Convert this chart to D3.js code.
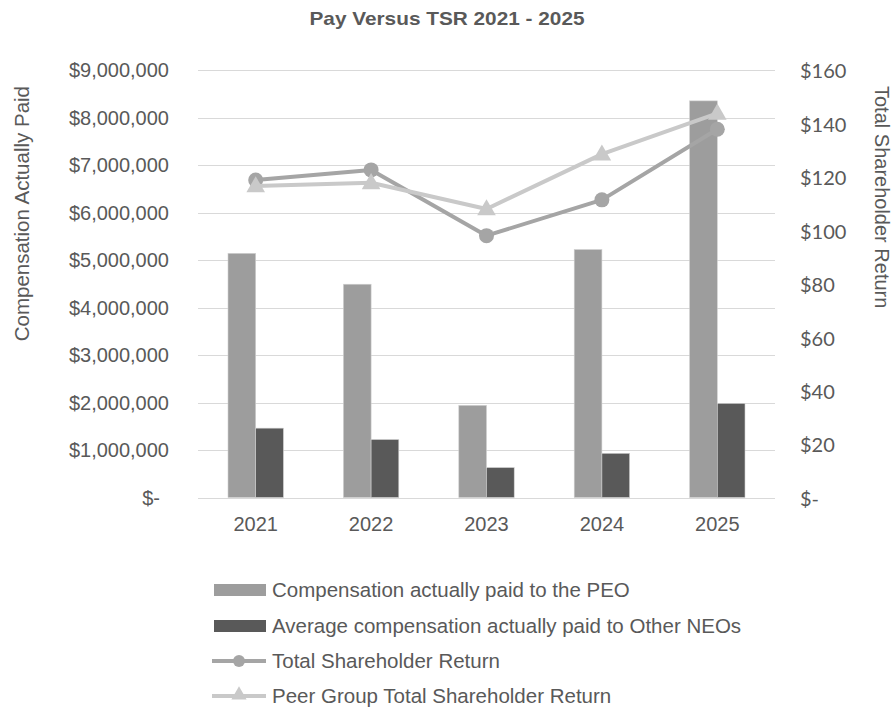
<!DOCTYPE html>
<html>
<head>
<meta charset="utf-8">
<script src="https://cdn.jsdelivr.net/npm/d3@7"></script>
<style>
  html, body { margin: 0; padding: 0; background: #ffffff; }
  svg { display: block; }
</style>
</head>
<body>
<svg id="chart" width="893" height="709"></svg>
<script>
const years = ["2021", "2022", "2023", "2024", "2025"];
const peoCap = [5140000, 4490000, 1940000, 5220000, 8350000];
const neoCap = [1460000, 1220000, 630000, 930000, 1980000];
const tsr = [118.8, 122.6, 98.0, 111.4, 137.8];
const peerTsr = [116.6, 117.8, 108.0, 128.5, 143.8];
const leftTicks = [0, 1000000, 2000000, 3000000, 4000000, 5000000, 6000000, 7000000, 8000000, 9000000];
const rightTicks = [0, 20, 40, 60, 80, 100, 120, 140, 160];
const seriesNames = [
  "Compensation actually paid to the PEO",
  "Average compensation actually paid to Other NEOs",
  "Total Shareholder Return",
  "Peer Group Total Shareholder Return"
];
const titleText = "Pay Versus TSR 2021 - 2025";

const C = {
  peo: "#9d9d9d", neo: "#595959", tsr: "#a5a5a5", peer: "#c9c9c9",
  grid: "#d9d9d9", text: "#595959"
};
const FONT = "'Liberation Sans', Arial, sans-serif";

const svg = d3.select("#chart");
const plot = { left: 198, right: 775, top: 70, bottom: 497.5 };

const x = d3.scaleBand().domain(years).range([plot.left, plot.right]).padding(0);
const yL = d3.scaleLinear().domain([0, 9000000]).range([plot.bottom, plot.top]);
const yR = d3.scaleLinear().domain([0, 160]).range([plot.bottom, plot.top]);

// Title
svg.append("text")
  .attr("x", 447).attr("y", 25)
  .attr("text-anchor", "middle")
  .attr("font-family", FONT).attr("font-weight", "bold")
  .attr("font-size", 19).attr("fill", C.text)
  .attr("textLength", 275).attr("lengthAdjust", "spacingAndGlyphs")
  .text(titleText);

// Gridlines
svg.append("g").selectAll("line").data(leftTicks).join("line")
  .attr("x1", plot.left).attr("x2", plot.right)
  .attr("y1", d => Math.round(yL(d)) + 0.5).attr("y2", d => Math.round(yL(d)) + 0.5)
  .attr("stroke", C.grid).attr("stroke-width", 1.2);

// Left axis labels
const fmtL = d => d === 0 ? "$-" : "$" + d3.format(",")(d);
svg.append("g").selectAll("text").data(leftTicks).join("text")
  .attr("x", d => d === 0 ? 160 : 169)
  .attr("y", d => yL(d)).attr("dy", "0.36em")
  .attr("text-anchor", "end")
  .attr("font-family", FONT).attr("font-size", 20).attr("fill", C.text)
  .text(fmtL);

// Right axis labels
const fmtR = d => d === 0 ? "$-" : "$" + d;
svg.append("g").selectAll("text").data(rightTicks).join("text")
  .attr("x", 800)
  .attr("y", d => yR(d)).attr("dy", "0.42em")
  .attr("text-anchor", "start")
  .attr("font-family", "Lato, 'Open Sans', sans-serif").attr("font-size", 20).attr("fill", C.text)
  .text(fmtR);

// X axis labels
svg.append("g").selectAll("text").data(years).join("text")
  .attr("x", d => x(d) + x.bandwidth() / 2)
  .attr("y", 531)
  .attr("text-anchor", "middle")
  .attr("font-family", FONT).attr("font-size", 20).attr("fill", C.text)
  .text(d => d);

// Axis titles
svg.append("text")
  .attr("transform", "translate(29,86) rotate(-90)")
  .attr("text-anchor", "end")
  .attr("font-family", FONT).attr("font-size", 20.5).attr("fill", C.text)
  .text("Compensation Actually Paid");
svg.append("text")
  .attr("transform", "translate(875,86) rotate(90)")
  .attr("text-anchor", "start")
  .attr("font-family", FONT).attr("font-size", 20).attr("fill", C.text)
  .text("Total Shareholder Return");

// Bars
const barW = x.bandwidth() * 0.24;
const barData = years.map((yr, i) => ({ yr, peo: peoCap[i], neo: neoCap[i] }));
const bars = svg.append("g");
bars.selectAll("rect.peo").data(barData).join("rect").attr("class", "peo")
  .attr("x", d => x(d.yr) + x.bandwidth() / 2 - barW)
  .attr("width", barW)
  .attr("y", d => yL(d.peo)).attr("height", d => yL(0) - yL(d.peo))
  .attr("fill", C.peo).attr("stroke", "#d0d0d0").attr("stroke-width", 0.6);
bars.selectAll("rect.neo").data(barData).join("rect").attr("class", "neo")
  .attr("x", d => x(d.yr) + x.bandwidth() / 2)
  .attr("width", barW)
  .attr("y", d => yL(d.neo)).attr("height", d => yL(0) - yL(d.neo))
  .attr("fill", C.neo).attr("stroke", "#d0d0d0").attr("stroke-width", 0.6);

// Lines
const cx = d => x(d) + x.bandwidth() / 2;
const line = d3.line().x(d => cx(d.yr)).y(d => yR(d.v));
const tsrData = years.map((yr, i) => ({ yr, v: tsr[i] }));
const peerData = years.map((yr, i) => ({ yr, v: peerTsr[i] }));
const triangle = d3.symbol().type(d3.symbolTriangle).size(150);

svg.append("path").datum(tsrData).attr("d", line)
  .attr("fill", "none").attr("stroke", C.tsr).attr("stroke-width", 4).attr("stroke-linejoin", "round");
svg.append("g").selectAll("circle").data(tsrData).join("circle")
  .attr("cx", d => cx(d.yr)).attr("cy", d => yR(d.v)).attr("r", 7.5)
  .attr("fill", C.tsr);

svg.append("path").datum(peerData).attr("d", line)
  .attr("fill", "none").attr("stroke", C.peer).attr("stroke-width", 4).attr("stroke-linejoin", "round");
svg.append("g").selectAll("path.tri").data(peerData).join("path").attr("class", "tri")
  .attr("transform", d => `translate(${cx(d.yr)},${yR(d.v) + 1})`)
  .attr("d", triangle).attr("fill", C.peer);

// Legend
const legY = [590, 626, 661, 696];
const lg = svg.append("g");
seriesNames.forEach((name, i) => {
  const y = legY[i];
  if (i < 2) {
    lg.append("rect").attr("x", 214).attr("y", y - 6).attr("width", 52).attr("height", 12)
      .attr("fill", i === 0 ? C.peo : C.neo);
  } else {
    const col = i === 2 ? C.tsr : C.peer;
    lg.append("line").attr("x1", 212).attr("x2", 266).attr("y1", y).attr("y2", y)
      .attr("stroke", col).attr("stroke-width", 4);
    if (i === 2) {
      lg.append("circle").attr("cx", 239).attr("cy", y).attr("r", 6).attr("fill", col);
    } else {
      lg.append("path").attr("transform", `translate(239,${y - 1})`)
        .attr("d", d3.symbol().type(d3.symbolTriangle).size(100)).attr("fill", col);
    }
  }
  lg.append("text").attr("x", 272).attr("y", y).attr("dy", "0.36em")
    .attr("font-family", FONT).attr("font-size", 20.5).attr("fill", C.text)
    .text(name);
});
</script>
</body>
</html>
